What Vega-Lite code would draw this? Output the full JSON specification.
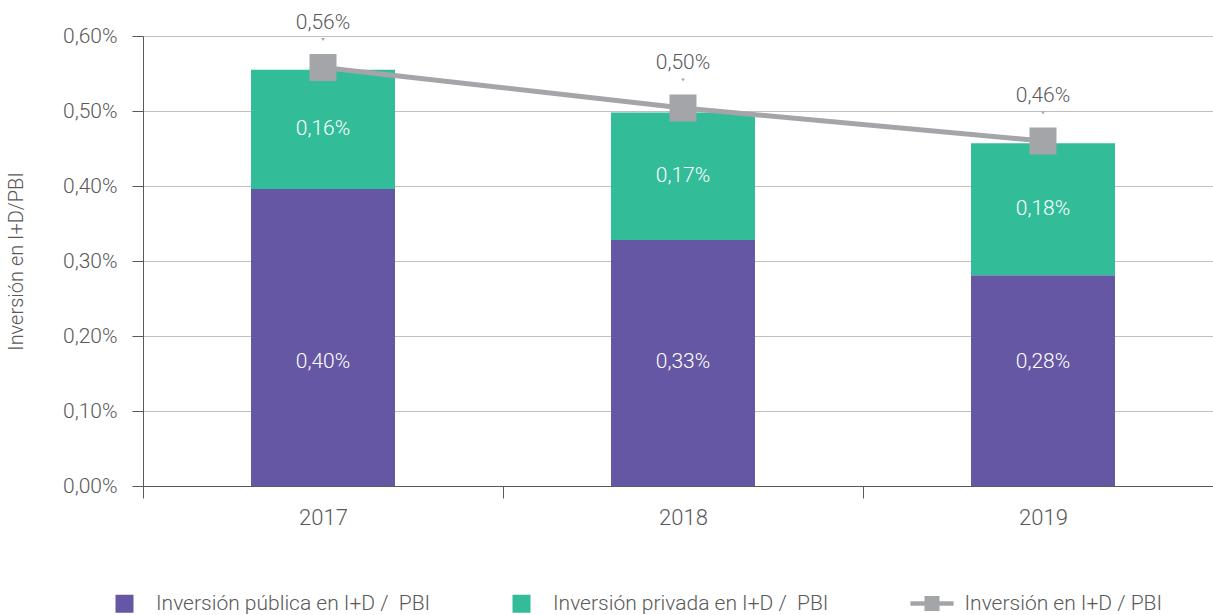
{
  "$schema": "https://vega.github.io/schema/vega-lite/v6.json",
  "width": 1070,
  "height": 450,
  "autosize": {"type": "none"},
  "padding": {"left": 143, "top": 36, "right": 0, "bottom": 129},
  "config": {
    "locale": {"number": {"decimal": ",", "thousands": ".", "grouping": [3], "currency": ["", " €"]}},
    "view": {"stroke": null},
    "font": "Roboto",
    "text": {"font": "Roboto"}
  },
  "datasets": {
    "bars": [
      {"year": "2017", "serie": "Inversión pública en I+D / \u00a0PBI", "orden": 1, "value": 0.00396},
      {"year": "2017", "serie": "Inversión privada en I+D / \u00a0PBI", "orden": 2, "value": 0.00159},
      {"year": "2018", "serie": "Inversión pública en I+D / \u00a0PBI", "orden": 1, "value": 0.00328},
      {"year": "2018", "serie": "Inversión privada en I+D / \u00a0PBI", "orden": 2, "value": 0.00170},
      {"year": "2019", "serie": "Inversión pública en I+D / \u00a0PBI", "orden": 1, "value": 0.00281},
      {"year": "2019", "serie": "Inversión privada en I+D / \u00a0PBI", "orden": 2, "value": 0.00176}
    ],
    "total": [
      {"year": "2017", "serie": "Inversión en I+D / PBI", "total": 0.00558},
      {"year": "2018", "serie": "Inversión en I+D / PBI", "total": 0.00504},
      {"year": "2019", "serie": "Inversión en I+D / PBI", "total": 0.00460}
    ]
  },
  "layer": [
    {
      "data": {"name": "bars"},
      "mark": {"type": "bar", "width": 144},
      "encoding": {
        "x": {
          "field": "year", "type": "nominal",
          "scale": {"range": [0, 1080], "paddingInner": 0, "paddingOuter": 0},
          "axis": {
            "title": null, "labelAngle": 0, "tickBand": "extent", "grid": false,
            "domainColor": "#595959", "tickColor": "#595959", "tickSize": 12,
            "labelFontSize": 22, "labelColor": "#595959", "labelPadding": 9,
            "labelFont": "Roboto", "labelFontWeight": 300
          }
        },
        "y": {
          "field": "value", "type": "quantitative", "stack": "zero",
          "scale": {"domain": [0, 0.006]},
          "axis": {
            "values": [0, 0.001, 0.002, 0.003, 0.004, 0.005, 0.006],
            "format": ".2%",
            "title": "Inversión en I+D/PBI",
            "titleFontSize": 20, "titleFontWeight": 300, "titleColor": "#595959", "titlePadding": 36, "titleFont": "Roboto",
            "domainColor": "#595959", "tickColor": "#595959", "tickSize": 11,
            "labelPadding": 15, "labelFontSize": 21, "labelColor": "#595959", "labelFont": "Roboto", "labelFontWeight": 300,
            "gridColor": "#C0C0C0", "gridWidth": 1
          }
        },
        "color": {
          "field": "serie", "type": "nominal",
          "scale": {
            "domain": ["Inversión pública en I+D / \u00a0PBI", "Inversión privada en I+D / \u00a0PBI"],
            "range": ["#6557A3", "#32BC98"]
          },
          "legend": {
            "title": null, "orient": "none", "legendX": -29, "legendY": 557,
            "direction": "horizontal", "columns": 2, "padding": 0,
            "symbolType": "square", "symbolSize": 324, "symbolStrokeWidth": 0,
            "labelOffset": 21, "columnPadding": 80, "labelFontSize": 21, "labelColor": "#595959",
            "labelFont": "Roboto", "labelFontWeight": 300, "labelLimit": 500
          }
        },
        "order": {"field": "orden", "type": "quantitative"}
      }
    },
    {
      "data": {"name": "bars"},
      "transform": [
        {"stack": "value", "groupby": ["year"], "sort": [{"field": "orden", "order": "ascending"}], "as": ["v0", "v1"]},
        {"filter": "datum.orden == 2"},
        {"calculate": "(datum.v0 + datum.v1) / 2", "as": "mid"}
      ],
      "mark": {"type": "text", "color": "white", "fontSize": 21, "fontWeight": 300, "baseline": "middle", "align": "center"},
      "encoding": {
        "x": {"field": "year", "type": "nominal"},
        "y": {"field": "mid", "type": "quantitative"},
        "text": {"field": "value", "type": "quantitative", "format": ".2%"}
      }
    },
    {
      "data": {"name": "bars"},
      "transform": [
        {"stack": "value", "groupby": ["year"], "sort": [{"field": "orden", "order": "ascending"}], "as": ["v0", "v1"]},
        {"filter": "datum.orden == 1"}
      ],
      "mark": {"type": "text", "color": "white", "fontSize": 21, "fontWeight": 300, "baseline": "middle", "align": "center", "dy": -124},
      "encoding": {
        "x": {"field": "year", "type": "nominal"},
        "y": {"field": "v0", "type": "quantitative"},
        "text": {"field": "value", "type": "quantitative", "format": ".2%"}
      }
    },
    {
      "data": {"name": "total"},
      "mark": {"type": "line", "strokeWidth": 5},
      "encoding": {
        "x": {"field": "year", "type": "nominal"},
        "y": {"field": "total", "type": "quantitative"},
        "stroke": {
          "field": "serie", "type": "nominal",
          "scale": {"range": ["#A3A5A8"]},
          "legend": {
            "title": null, "orient": "none", "legendX": 778.5, "legendY": 557, "padding": 0,
            "symbolType": "M-2.7,-0.28H2.7V0.28H-2.7Z M-0.94,-0.94H0.94V0.94H-0.94Z",
            "symbolSize": 256, "symbolStrokeWidth": 0, "symbolFillColor": "#A3A5A8",
            "labelOffset": 22, "labelFontSize": 21, "labelColor": "#595959",
            "labelFont": "Roboto", "labelFontWeight": 300, "labelLimit": 500,
            "encode": {"symbols": {"update": {"fill": {"value": "#A3A5A8"}, "strokeWidth": {"value": 0}}}}
          }
        }
      }
    },
    {
      "data": {"name": "total"},
      "mark": {"type": "point", "shape": "square", "filled": true, "size": 729, "color": "#A3A5A8", "opacity": 1},
      "encoding": {
        "x": {"field": "year", "type": "nominal"},
        "y": {"field": "total", "type": "quantitative"}
      }
    },
    {
      "data": {"name": "total"},
      "mark": {"type": "point", "shape": "triangle-down", "filled": true, "size": 14, "color": "#A6A6A6", "opacity": 1, "yOffset": -28},
      "encoding": {
        "x": {"field": "year", "type": "nominal"},
        "y": {"field": "total", "type": "quantitative"}
      }
    },
    {
      "data": {"name": "total"},
      "mark": {"type": "text", "dy": -45, "fontSize": 21, "fontWeight": 300, "color": "#595959", "baseline": "middle"},
      "encoding": {
        "x": {"field": "year", "type": "nominal"},
        "y": {"field": "total", "type": "quantitative"},
        "text": {"field": "total", "type": "quantitative", "format": ".2%"}
      }
    }
  ]
}
